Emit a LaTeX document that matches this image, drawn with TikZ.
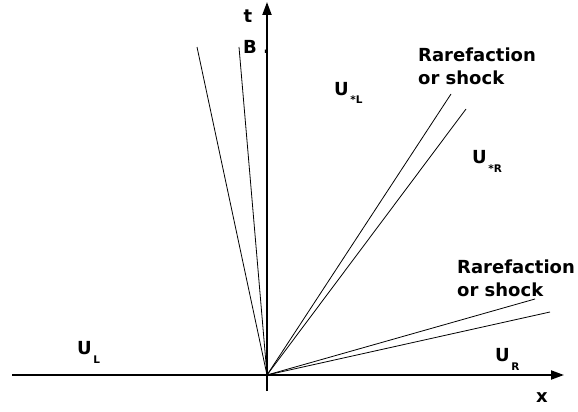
\documentclass[tikz,border=0pt]{standalone}
\usepackage{fontspec}
\setmainfont{DejaVu Sans}
\usetikzlibrary{arrows.meta}

% state label with a lowered small index
\newcommand{\Ustate}[1]{U\kern1.5pt\raisebox{-9pt}{\fontsize{10.5}{10.5}\selectfont #1}}

\begin{document}
\begin{tikzpicture}[
  x=1pt, y=-1pt,
  axis/.style={-{Triangle[length=13pt,width=9pt]}, line width=2pt},
  wave/.style={line width=0.8pt},
  lbl/.style={font=\fontsize{18}{23}\selectfont\bfseries, inner sep=0pt},
]
  \useasboundingbox (0,0) rectangle (578,412);

  % ── Axes ────────────────────────────────────────────────────────────────
  \coordinate (O)  at (267,375);
  \coordinate (xl) at (12,375);
  \coordinate (xr) at (564,375);
  \coordinate (yb) at (267,391);
  \coordinate (yt) at (267,2);
  \draw[axis] (xl) -- (xr);
  \draw[axis] (yb) -- (yt);

  % ── Wave fans from the origin ───────────────────────────────────────────
  \coordinate (left1)  at (197,47);
  \coordinate (left2)  at (239,47);
  \coordinate (mid1)   at (451,94);
  \coordinate (mid2)   at (466,109);
  \coordinate (right1) at (535,299);
  \coordinate (right2) at (550,312);
  \foreach \e in {left1,left2,mid1,mid2,right1,right2}
    \draw[wave] (O) -- (\e);

  % ── Labels ──────────────────────────────────────────────────────────────
  \node[lbl] (tlab) at (248,16) {t};
  \node[lbl] (xlab) at (542,398) {x};
  \node[lbl, anchor=base west] (B)   at (243,53)  {B .};
  \node[lbl, anchor=base west] (UsL) at (334,95)  {\Ustate{*L}};
  \node[lbl, anchor=base west] (UsR) at (472,163) {\Ustate{*R}};
  \node[lbl, anchor=base west] (UL)  at (77,354)  {\Ustate{L}};
  \node[lbl, anchor=base west] (UR)  at (495,361) {\Ustate{R}};
  \node[lbl, anchor=north west, align=left] (wave1) at (418,48)
      {Rarefaction\\or shock};
  \node[lbl, anchor=north west, align=left] (wave2) at (457,260)
      {Rarefaction\\or shock};

\end{tikzpicture}
\end{document}
